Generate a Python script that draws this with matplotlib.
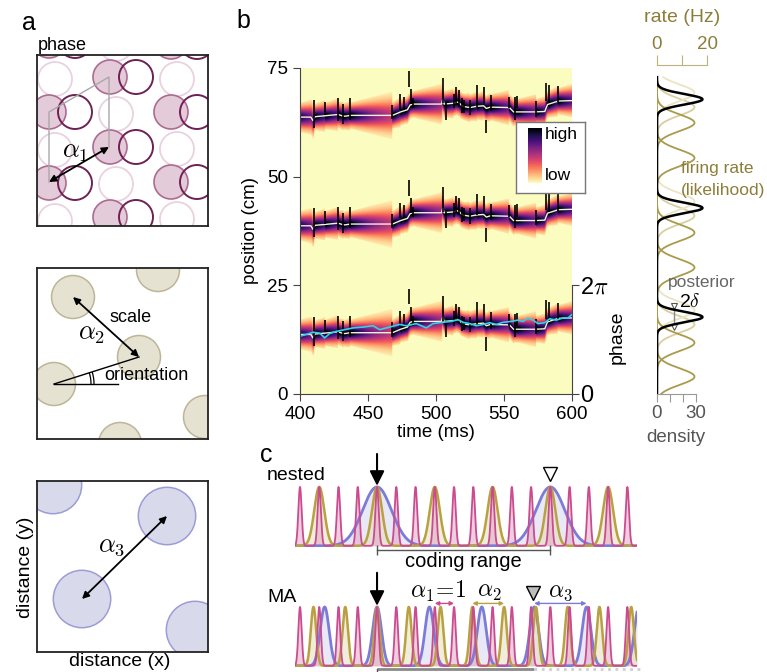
import numpy as np
import matplotlib.pyplot as plt
from matplotlib.patches import Circle, Arc

plt.rcParams['font.family'] = ['Liberation Sans', 'DejaVu Sans']
plt.rcParams['mathtext.fontset'] = 'cm'

W, H = 767, 672
fig = plt.figure(figsize=(W / 100, H / 100), dpi=100)


def px_axes(x0, y0, x1, y1):
    return fig.add_axes([x0 / W, 1 - y1 / H, (x1 - x0) / W, (y1 - y0) / H])


def ftext(x, y, s, **kw):
    kw.setdefault('va', 'center')
    return fig.text(x / W, 1 - y / H, s, **kw)


# ---------------- panel a: grid fields (pixel units of the picture) ----------------
phase_filled = [(49, 41), (49, 112), (49, 183), (110, 77), (110, 147), (110, 217),
                (171, 42), (171, 112), (171, 182)]
phase_dark = [(75, 41), (75, 112), (75, 183), (136, 77), (136, 147), (136, 217),
              (197, 42), (197, 112), (197, 182)]
phase_light = [(55, 79), (55, 150), (55, 221), (116, 44), (116, 114), (116, 184),
               (177, 79), (177, 149), (177, 219)]
phase_r = 17
phase_cell = [(49, 182), (49, 112), (109, 77), (109, 147)]

scale_centers = [(54, 384), (139, 357), (73, 297), (158, 270), (120, 444), (205, 417)]
scale_r = 21.5

big_centers = [(82, 599), (167, 516), (195, 630), (53, 485)]
big_r = 28.7


def grid_box(y0, y1):
    ax = px_axes(37, y0, 208, y1)
    ax.set_xlim(37, 208)
    ax.set_ylim(y1, y0)
    ax.set_xticks([])
    ax.set_yticks([])
    for s in ax.spines.values():
        s.set_linewidth(1.3)
        s.set_color('#222222')
    return ax


def darrow(ax, p, q):
    ax.annotate('', xy=q, xytext=p,
                arrowprops=dict(arrowstyle='<|-|>', color='k', lw=1.3,
                                mutation_scale=10, shrinkA=0, shrinkB=0))


ax = grid_box(55, 226)
for c in phase_light:
    ax.add_patch(Circle(c, phase_r, fc='none', ec='#e9d2df', lw=1.3))
for c in phase_filled:
    ax.add_patch(Circle(c, phase_r, fc='#e4cbd9', ec='#ad6b90', lw=1.2))
for c in phase_dark:
    ax.add_patch(Circle(c, phase_r, fc='none', ec='#6e2155', lw=1.4))
ax.plot([p[0] for p in phase_cell], [p[1] for p in phase_cell], color='#a8a8a8', lw=1)
darrow(ax, phase_cell[0], phase_cell[3])
ax.text(75, 152, r'$\alpha_1$', fontsize=19, ha='center', va='center')
ftext(38, 45, 'phase', fontsize=13)

ax = grid_box(268, 439)
for c in scale_centers:
    ax.add_patch(Circle(c, scale_r, fc='#e6e2d2', ec='#bdb597', lw=1.1))
darrow(ax, scale_centers[2], scale_centers[1])
ax.plot([54, 118], [384, 384], color='k', lw=1)
ax.plot([54, 139], [384, 357], color='k', lw=1)
ax.add_patch(Arc((54, 384), 74, 74, theta1=-17.6, theta2=0, color='k', lw=0.9))
ax.add_patch(Arc((54, 384), 80, 80, theta1=-17.6, theta2=0, color='k', lw=0.9))
ax.text(109, 317, 'scale', fontsize=13, va='center')
ax.text(92, 334, r'$\alpha_2$', fontsize=19, ha='center', va='center')
ax.text(104, 375, 'orientation', fontsize=13, va='center')

ax = grid_box(481, 652)
for c in big_centers:
    ax.add_patch(Circle(c, big_r, fc='#d9d9ec', ec='#9c9cd6', lw=1.1))
darrow(ax, big_centers[0], big_centers[1])
ax.text(112, 546, r'$\alpha_3$', fontsize=19, ha='center', va='center')
ftext(25, 567, 'distance (y)', fontsize=14, rotation=90, ha='center')
ftext(120, 662, 'distance (x)', fontsize=14, ha='center')

# ---------------- panel b: decoded position ----------------
traj_t = [400, 408, 409.5, 411, 418, 428, 431, 433, 437, 468, 474, 479, 481, 483, 504,
          505, 506, 513, 515, 517, 519, 521, 525, 530, 535, 537, 540, 554, 557, 573,
          580, 582, 590, 600]
traj_pos = [63.7, 63.7, 62.9, 63.8, 64.0, 64.3, 64.0, 63.9, 64.1, 64.1, 64.9, 65.4, 66.5,
            66.7, 66.7, 67.8, 66.7, 66.9, 67.2, 67.0, 66.3, 66.1, 65.9, 66.2, 66.3, 65.7,
            66.0, 65.9, 64.9, 64.9, 65.0, 66.6, 67.4, 67.5]
grid_period = 25.0

spike_t = [410.3, 418.1, 427.9, 431.9, 437.0, 467.9, 473.8, 476.2, 479.9, 481.4, 482.8,
           504.9, 507.1, 513.0, 514.9, 516.9, 518.9, 520.3, 524.8, 530.1, 535.0, 537.0,
           540.4, 553.7, 557.8, 559.8, 573.8, 581.1, 583.1, 590.0]
spike_lo = [61.1, 64.2, 62.7, 62.1, 63.1, 63.2, 65.4, 65.4, 70.6, 66.7, 65.7, 66.9, 63.1,
            65.7, 66.9, 66.1, 64.6, 64.7, 64.2, 66.1, 66.9, 60.0, 65.0, 65.7, 63.1, 65.7,
            63.8, 67.3, 66.9, 67.2]
spike_hi = [67.7, 67.1, 68.0, 66.7, 68.0, 66.5, 69.0, 68.4, 74.2, 70.1, 68.0, 72.6, 66.9,
            69.0, 70.6, 70.0, 68.0, 67.7, 67.7, 71.1, 70.6, 63.1, 68.8, 68.4, 68.4, 68.6,
            67.3, 71.6, 71.1, 70.9]

true_t = [400, 404.7, 409.6, 414.5, 418.1, 421.8, 426.7, 432.8, 439.0, 446.3, 453.7, 458.6,
          463.5, 468.4, 473.3, 478.2, 485.5, 492.9, 497.8, 505.1, 511.3, 516.2, 519.9,
          524.8, 529.7, 534.6, 539.5, 544.4, 549.3, 555.4, 560.3, 564.0, 567.6, 571.3,
          575.0, 579.9, 583.6, 588.5, 593.4, 597.1, 600]
true_pos = [13.3, 13.7, 14.2, 14.0, 12.9, 13.9, 14.4, 14.8, 15.2, 15.4, 15.7, 14.8, 15.2,
            15.6, 16.0, 15.7, 16.2, 15.2, 16.2, 16.5, 16.7, 17.1, 16.5, 16.2, 15.7, 16.0,
            16.4, 16.0, 16.5, 16.7, 17.0, 16.7, 17.5, 17.0, 16.2, 16.4, 17.3, 17.0, 17.5,
            17.5, 18.3]

t_grid = np.arange(400, 600.01, 0.5)
y_grid = np.arange(0, 75.01, 0.1)
center = np.interp(t_grid, traj_t, traj_pos)
spk = np.array([395.0] + spike_t)
last = np.array([spk[spk <= t].max() for t in t_grid])
sigma = 1.3 + 0.035 * (t_grid - last)
amp = (1.3 / sigma) ** 1.3
img = np.zeros((len(y_grid), len(t_grid)))
for b in range(3):
    d = y_grid[:, None] - (center[None, :] - b * grid_period)
    v = amp[None, :] * np.exp(-d ** 2 / (2 * sigma[None, :] ** 2))
    v[np.abs(d) > 2.3 * sigma[None, :]] = 0
    img = np.maximum(img, v)

ax_b = px_axes(300, 68, 572, 394)
ax_b.imshow(img, extent=[400, 600, 0, 75], origin='lower', aspect='auto',
            cmap='magma_r', vmin=0, vmax=0.95, interpolation='bilinear')
for b in range(3):
    off = b * grid_period
    ax_b.plot(traj_t, np.array(traj_pos) - off, color='#f4f2d8', lw=1.0)
    ax_b.vlines(spike_t, np.array(spike_lo) - off, np.array(spike_hi) - off,
                color='k', lw=1.2)
ax_b.plot(true_t, true_pos, color='#2fd3e6', lw=1.2)
ax_b.set_xlim(400, 600)
ax_b.set_ylim(0, 75)
ax_b.set_xticks([400, 450, 500, 550, 600])
ax_b.set_yticks([0, 25, 50, 75])
ax_b.tick_params(labelsize=13.5, length=5, width=0.8, color='#444444')
for s in ['top', 'right']:
    ax_b.spines[s].set_visible(False)
for s in ['left', 'bottom']:
    ax_b.spines[s].set_linewidth(0.8)
    ax_b.spines[s].set_color('#444444')
ax_b.set_xlabel('time (ms)', fontsize=13.5, labelpad=1)
ax_b.set_ylabel('position (cm)', fontsize=13.5, labelpad=6)

ax_p = ax_b.twinx()
ax_p.set_ylim(0, 75)
for s in ['top', 'left', 'bottom']:
    ax_p.spines[s].set_visible(False)
ax_p.spines['right'].set_bounds(0, 25)
ax_p.spines['right'].set_linewidth(0.8)
ax_p.spines['right'].set_color('#444444')
ax_p.set_yticks([0, 25])
ax_p.set_yticklabels(['0', r'2$\pi$'])
ax_p.tick_params(labelsize=17, length=5, width=0.8, color='#444444', pad=1)
ftext(617, 337, 'phase', fontsize=14, rotation=90, ha='center')

# legend box with colour gradient
ax_lg = px_axes(516, 122, 585, 193)
ax_lg.set_xticks([])
ax_lg.set_yticks([])
for s in ax_lg.spines.values():
    s.set_color('#777777')
    s.set_linewidth(1)
ax_cb = px_axes(528, 128, 542, 183)
ax_cb.imshow(np.linspace(0, 1, 100)[:, None], origin='lower', aspect='auto',
             cmap='magma_r', extent=[0, 1, 0, 1])
ax_cb.axis('off')
ftext(545, 135, 'high', fontsize=12.5)
ftext(545, 175, 'low', fontsize=12.5)

# ---------------- panel b right: likelihood / posterior ----------------
post_peaks = [17.7, 42.8, 67.8]
post_sigma = 1.2
post_amp = 35
rate_cells = [[4.0, 29.1, 54.3], [11.8, 37.1, 62.4]]
rate_cells_light = [[16.0, 41.0, 66.0], [19.3, 44.3, 69.3]]
rate_sigma = 1.9
rate_amp = 15

yy = np.linspace(0, 72.9, 800)


def bumps(x, centers, s):
    return sum(np.exp(-(x - c) ** 2 / (2 * s ** 2)) for c in centers)


ax_r = px_axes(657, 68, 710, 394)
ax_r.set_ylim(0, 75)
ax_r.set_xlim(0, 40.8)
ax_rt = ax_r.twiny()
ax_rt.set_xlim(0, 21.2)
for cells, col in zip(rate_cells_light, ['#d9cf9e', '#ebe4c4']):
    ax_rt.plot(rate_amp * bumps(yy, cells, rate_sigma), yy, color=col, lw=1.3)
for cells in rate_cells:
    ax_rt.plot(rate_amp * bumps(yy, cells, rate_sigma), yy, color='#a99a4c', lw=1.3)
ax_r.plot(post_amp * bumps(yy, post_peaks, post_sigma), yy, color='k', lw=1.8, zorder=5)
ax_r.set_zorder(ax_rt.get_zorder() + 1)
ax_r.patch.set_visible(False)
ax_r.plot([13, 13], [15.3, 20.3], color='#888888', lw=1)
ax_r.plot([13, 13], [15.3, 20.3], ls='none', marker='v', ms=5, mfc='white', mec='#555555',
          mew=0.8)
for a in (ax_r, ax_rt):
    for s in ['left', 'right']:
        a.spines[s].set_visible(False)
    a.set_yticks([])
ax_r.spines['top'].set_visible(False)
ax_rt.spines['bottom'].set_visible(False)
ax_r.spines['bottom'].set_bounds(0, 30)
ax_r.spines['bottom'].set_color('#999999')
ax_r.set_xticks([0, 10, 20, 30])
ax_r.set_xticklabels(['0', '', '', '30'])
ax_r.tick_params(axis='x', colors='#999999', labelcolor='#555555', labelsize=13.5,
                 length=6, width=0.8, pad=2)
ax_rt.spines['top'].set_bounds(0, 20)
ax_rt.spines['top'].set_color('#bdb17c')
ax_rt.spines['top'].set_position(('outward', 2))
ax_rt.set_xticks([0, 10, 20])
ax_rt.set_xticklabels(['0', '', '20'])
ax_rt.tick_params(axis='x', colors='#bdb17c', labelcolor='#8c7e3a', labelsize=13.5,
                  length=7, width=0.8, pad=2)
ftext(682, 18, 'rate (Hz)', fontsize=14, ha='center', color='#8c7e3a')
ftext(676, 437, 'density', fontsize=13.5, ha='center', color='#555555')
ftext(681, 168, 'firing rate', fontsize=12.5, color='#8c7e3a')
ftext(681, 190, '(likelihood)', fontsize=12.5, color='#8c7e3a')
ftext(668, 283, 'posterior', fontsize=12.5, color='#666666')
ftext(679, 302, r'2$\delta$', fontsize=14)

# ---------------- panel c: nested vs MA ----------------
nested_pink = list(range(-4, 14))
nested_olive = [-3, 0, 3, 6, 9, 12]
nested_blue = [0, 9]
ma_pink = list(range(-4, 14))
ma_olive = [-3.3, -1.65, 0, 1.65, 3.3, 4.95, 6.6, 8.25, 9.9, 11.55, 13.2]
ma_blue = [-2.72, 0, 2.72, 5.44, 8.16, 10.88, 13.6]
nested_sig = [0.085, 0.26, 0.75]
ma_sig = [0.085, 0.14, 0.23]

PINK, OLIVE, BLUE = '#cc4a8f', '#b9a142', '#7c7cd8'
FPINK, FOLIVE, FBLUE = '#dfa9c6', '#e5dfbd', '#d6d6f0'
xs = np.linspace(-4.26, 13.5, 3000)


def module_axes(y0, y1, centers, sigs):
    ax = px_axes(295, y0, 637, y1)
    ax.set_xlim(-4.26, 13.5)
    ax.set_ylim(-0.02, 1.05)
    ax.axis('off')
    cols = [(PINK, FPINK, 1.3), (OLIVE, FOLIVE, 1.8), (BLUE, FBLUE, 2.0)]
    curves = [bumps(xs, c, s) for c, s in zip(centers, sigs)]
    for k in [2, 1, 0]:
        ax.fill_between(xs, 0, curves[k], color=cols[k][1], alpha=0.55, lw=0)
    for k in [2, 1, 0]:
        ax.plot(xs, curves[k], color=cols[k][0], lw=cols[k][2])
    return ax


def down_arrow(ax, x, y0, y1):
    ax.annotate('', xy=(x, y1), xytext=(x, y0), annotation_clip=False,
                arrowprops=dict(arrowstyle='-|>', color='k', lw=1.5,
                                mutation_scale=22, shrinkA=0, shrinkB=0))


ax_n = module_axes(484, 547, [nested_pink, nested_olive, nested_blue], nested_sig)
down_arrow(ax_n, 0, 1.56, 1.02)
ax_n.plot(9, 1.22, marker='v', ms=10, mfc='white', mec='k', mew=1, clip_on=False)
ax_n.plot([0, 9], [-0.07, -0.07], color='#555555', lw=1, clip_on=False)
ax_n.plot([0, 9], [-0.07, -0.07], ls='none', marker='|', ms=7, color='#555555',
          clip_on=False)
ax_n.text(4.5, -0.27, 'coding range', fontsize=14.5, ha='center', va='center')
ftext(267, 476, 'nested', fontsize=14)

ax_m = module_axes(604, 667, [ma_pink, ma_olive, ma_blue], ma_sig)
down_arrow(ax_m, 0, 1.58, 1.02)
ax_m.plot(8.1, 1.24, marker='v', ms=10, mfc='#bdbdbd', mec='k', mew=1, clip_on=False)
for (x0, x1), col in zip([(3, 4), (4.95, 6.6), (8.16, 10.88)], [PINK, OLIVE, BLUE]):
    ax_m.annotate('', xy=(x1, 1.06), xytext=(x0, 1.06), annotation_clip=False,
                  arrowprops=dict(arrowstyle='<|-|>', color=col, lw=1,
                                  mutation_scale=6, shrinkA=0, shrinkB=0))
ax_m.text(3.2, 1.26, r'$\alpha_1\!=\!1$', fontsize=17, ha='center', va='center')
ax_m.text(5.85, 1.26, r'$\alpha_2$', fontsize=17, ha='center', va='center')
ax_m.text(9.5, 1.26, r'$\alpha_3$', fontsize=17, ha='center', va='center')
ax_m.plot([0, 8.16], [-0.055, -0.055], color='#8a8a8a', lw=2, clip_on=False,
          solid_capstyle='butt')
ax_m.plot([8.16, 13.85], [-0.055, -0.055], color='#cfcfcf', lw=2, ls=':', clip_on=False)
ax_m.plot([0, 0], [-0.055, -0.15], color='#555555', lw=1, clip_on=False)
ftext(267, 598, 'MA', fontsize=14)

ftext(22, 23, 'a', fontsize=18)
ftext(236, 21, 'b', fontsize=18)
ftext(260, 455, 'c', fontsize=18)

fig.savefig('out.png', dpi=100)
